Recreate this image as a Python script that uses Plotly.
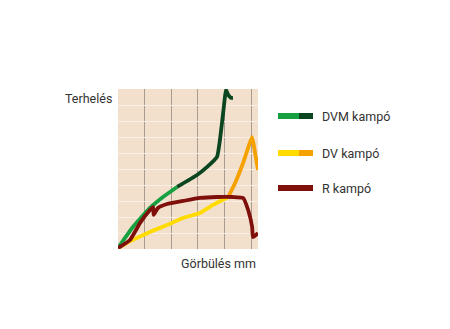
import plotly.graph_objects as go

# Data (x: Görbülés mm in grid units, y: Terhelés in grid units)
dvm_x = [0, 0.56, 1.2, 1.69, 2.22, 2.97, 3.35, 3.72, 3.83, 3.95, 4.06, 4.14, 4.25, 4.32]
dvm_y = [0.06, 1.38, 2.58, 3.27, 3.9, 4.65, 5.16, 5.79, 6.86, 8.55, 10.0, 9.69, 9.5, 9.5]
dvm_split = 4  # index where colour changes from green to dark green

dv_x = [0, 0.56, 1.2, 1.84, 2.44, 3.08, 3.57, 4.14, 4.4, 4.7, 5.04, 5.15, 5.26]
dv_y = [0.06, 0.57, 1.07, 1.51, 1.95, 2.26, 2.77, 3.27, 4.15, 5.41, 7.04, 6.04, 4.97]
dv_split = 7

r_x = [0, 0.45, 0.83, 1.2, 1.32, 1.34, 1.5, 1.84, 2.44, 3.08, 3.72, 4.32, 4.7, 4.89, 5.04, 5.07, 5.22, 5.26]
r_y = [0.06, 0.57, 1.64, 2.45, 2.64, 2.14, 2.58, 2.83, 3.02, 3.21, 3.27, 3.27, 3.21, 2.45, 1.38, 0.75, 0.94, 1.0]

series_names = ["DVM kampó", "DV kampó", "R kampó"]
x_label = "Görbülés mm"
y_label = "Terhelés"

GREEN = "#17A040"
DKGREEN = "#0B4620"
YELLOW = "#FFDB00"
ORANGE = "#F5A100"
RED = "#7E0F0B"
LW = 3.8

fig = go.Figure()

def add(x, y, color):
    fig.add_trace(go.Scatter(x=x, y=y, mode="lines", line=dict(color=color, width=LW, shape="spline", smoothing=0.4),
                             showlegend=False, hoverinfo="skip"))

add(dv_x[:dv_split + 1], dv_y[:dv_split + 1], YELLOW)
add(dv_x[dv_split:], dv_y[dv_split:], ORANGE)
add(dvm_x[:dvm_split + 1], dvm_y[:dvm_split + 1], GREEN)
add(dvm_x[dvm_split:], dvm_y[dvm_split:], DKGREEN)
add(r_x, r_y, RED)

fig.update_layout(
    width=450, height=329,
    margin=dict(l=118, r=192, t=89, b=80),
    paper_bgcolor="white",
    plot_bgcolor="#F2DFCC",
    font=dict(family="Roboto", size=12, color="#333333"),
    xaxis=dict(range=[0, 5.26], tickvals=[0, 1, 2, 3, 4, 5], showticklabels=False,
               showgrid=True, gridcolor="#A89C90", gridwidth=1.2, zeroline=False, showline=False),
    yaxis=dict(range=[0, 10.06], tickvals=list(range(0, 11)), showticklabels=False,
               showgrid=True, gridcolor="#F9EEE4", gridwidth=1, zeroline=False, showline=False),
)

# axis labels
fig.add_annotation(text=y_label, xref="paper", yref="paper", x=0, y=1, xanchor="right", yanchor="top",
                   xshift=-4, yshift=0, showarrow=False, font=dict(size=12.5, color="#333333"))
fig.add_annotation(text=x_label, xref="paper", yref="paper", x=1, y=0, xanchor="right", yanchor="top",
                   yshift=-5, showarrow=False, font=dict(size=12.5, color="#333333"))

# legend (manual)
legend_items = [
    (series_names[0], [GREEN, DKGREEN], 116),
    (series_names[1], [YELLOW, ORANGE], 153),
    (series_names[2], [RED, RED], 188),
]
for name, cols, ypx in legend_items:
    yp = 1 - (ypx - 89) / 160.0
    hh = 3.0 / 160.0
    # swatch in paper coords: plot spans x 118..258 (140 px)
    def px2paper(px):
        return (px - 118) / 140.0
    fig.add_shape(type="rect", xref="paper", yref="paper", x0=px2paper(278), x1=px2paper(299),
                  y0=yp - hh, y1=yp + hh, fillcolor=cols[0], line=dict(width=0))
    fig.add_shape(type="rect", xref="paper", yref="paper", x0=px2paper(299), x1=px2paper(313),
                  y0=yp - hh, y1=yp + hh, fillcolor=cols[1], line=dict(width=0))
    fig.add_annotation(text=name, xref="paper", yref="paper", x=px2paper(320), y=yp, xanchor="left",
                       yanchor="middle", showarrow=False, font=dict(size=12.5, color="#333333"))

fig.write_html("out.html")
